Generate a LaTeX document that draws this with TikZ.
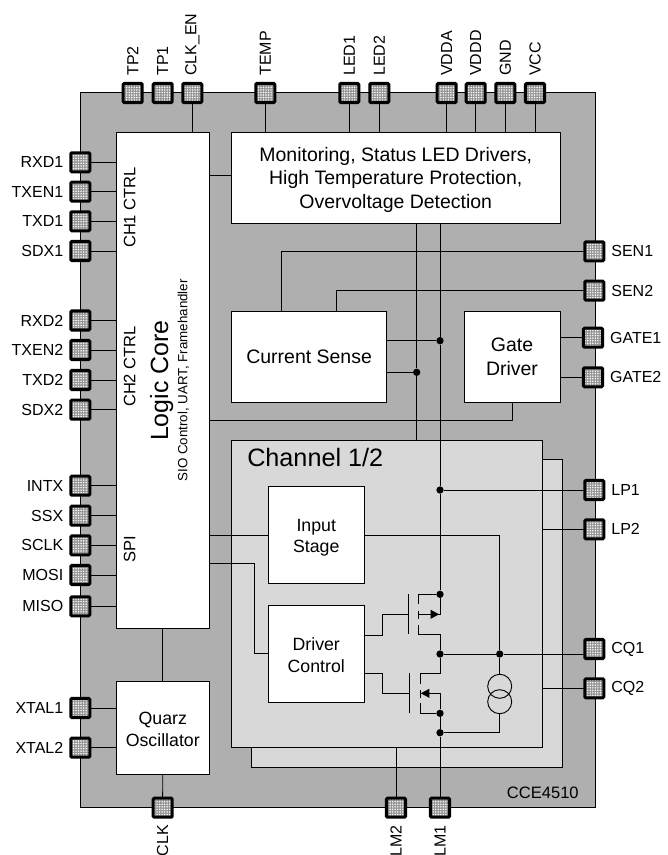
\documentclass[tikz,border=0pt]{standalone}
\usepackage{fontspec}
\setmainfont{Liberation Sans}
\usetikzlibrary{patterns.meta}
\definecolor{chipgray}{HTML}{AFAFAF}
\definecolor{channelgray}{HTML}{D8D8D8}
\tikzset{
  sized/.style 2 args={minimum width=#1*0.75pt,minimum height=#2*0.75pt,inner sep=0pt},
  blockbox/.style={draw=black,fill=white,line width=0.7pt,align=center,font=\fontsize{14.6}{17.6}\selectfont},
  smallbox/.style={blockbox,font=\fontsize{13.3}{16}\selectfont},
  shell/.style={draw=black,line width=0.7pt},
  pad/.style={rounded corners=0.8pt,sized={19}{19},
    preaction={fill=black!42},pattern={Dots[distance=1.9pt,radius=0.62pt]},pattern color=white,
    postaction={draw=black,line width=2.3pt}},
  wire/.style={draw=black,line width=0.7pt},
  junction/.style={circle,fill=black,inner sep=0pt,minimum size=5.5pt},
  padlabel/.style={font=\fontsize{12}{14}\selectfont,inner sep=0pt},
}
\begin{document}
\begin{tikzpicture}[x=0.75pt,y=-0.75pt]
  \useasboundingbox (0,0) rectangle (667,855);
  % housing and channel sheets
  \node[shell,fill=chipgray,sized={514.5}{715}] (chip) at (337.75,450.2) {};
  \node[shell,fill=channelgray,sized={310.3}{308.2}] (backsheet) at (406.85,613.6) {};
  \node[shell,fill=channelgray,sized={310.5}{307.7}] (channel) at (386.75,593.85) {};
  \node[font=\fontsize{18.9}{22}\selectfont,anchor=base west,inner sep=0pt] (channeltitle) at (247,466) {Channel 1/2};
  \node[font=\fontsize{12.4}{15}\selectfont,anchor=base west,inner sep=0pt] (partno) at (506.7,798) {CCE4510};
  % blocks
  \node[blockbox,sized={92.5}{496.7}] (logic) at (162.75,380.35) {};
  \node[blockbox,sized={328.5}{91.5}] (monitor) at (395.75,177.75)
    {\rule{0pt}{13.5pt}Monitoring, Status LED Drivers,\\High Temperature Protection,\\Overvoltage Detection};
  \node[blockbox,sized={155.2}{91}] (sense) at (309.1,356.5) {Current Sense};
  \node[blockbox,sized={96}{91},font=\fontsize{14.6}{18}\selectfont] (gatedrv) at (512,356.5) {Gate\\Driver};
  \node[smallbox,sized={95.5}{97}] (input) at (316.25,535.2) {\rule{0pt}{12.6pt}Input\\Stage};
  \node[smallbox,sized={95.5}{97}] (control) at (316.25,653.8) {\rule{0pt}{11.5pt}Driver\\Control};
  \node[smallbox,sized={92.5}{93}] (quarz) at (162.75,727.8) {\rule{0pt}{11.5pt}Quarz\\Oscillator};
  % text inside logic core
  \node[rotate=90,anchor=base,inner sep=0pt,font=\fontsize{12.4}{15}\selectfont] (chonetxt) at (135.3,207.5) {CH1 CTRL};
  \node[rotate=90,anchor=base,inner sep=0pt,font=\fontsize{12.4}{15}\selectfont] (chtwotxt) at (135.3,366.5) {CH2 CTRL};
  \node[rotate=90,anchor=base,inner sep=0pt,font=\fontsize{12.4}{15}\selectfont] (spitxt) at (135.3,549) {SPI};
  \node[rotate=90,anchor=base,inner sep=0pt,font=\fontsize{18.7}{22}\selectfont] (logictxt) at (168,380.7) {Logic Core};
  \node[rotate=90,anchor=base,inner sep=0pt,font=\fontsize{10}{12}\selectfont] (siotxt) at (187.3,380.3) {SIO Control, UART, Framehandler};
  % pads
  \foreach \n/\x/\t in {tptwo/132.7/TP2, tpone/162.7/TP1, clken/192.3/CLK\_EN, temp/265.3/TEMP,
                        ledone/349.3/LED1, ledtwo/379.3/LED2, vdda/446.7/VDDA, vddd/475.7/VDDD,
                        gnd/505.3/GND, vcc/535/VCC} {
    \node[pad] (\n) at (\x,93) {};
    \node[padlabel,rotate=90,anchor=west] (\n txt) at (\x,76) {\t};
  }
  \foreach \n/\x/\t in {clk/162.7/CLK, lmtwo/396/LM2, lmone/440/LM1} {
    \node[pad] (\n) at (\x,807.7) {};
    \node[padlabel,rotate=90,anchor=east] (\n txt) at (\x,825) {\t};
  }
  \foreach \n/\y/\t in {rxdone/162.3/RXD1, txenone/191.7/TXEN1, txdone/221.3/TXD1, sdxone/251/SDX1,
                        rxdtwo/320.5/RXD2, txentwo/350/TXEN2, txdtwo/380/TXD2, sdxtwo/409.7/SDX2,
                        intx/485.7/INTX, ssx/515.7/SSX, sclk/545.3/SCLK, mosi/575/MOSI,
                        miso/606.3/MISO, xtalone/708/XTAL1, xtaltwo/747.7/XTAL2} {
    \node[pad] (\n) at (80.3,\y) {};
    \node[padlabel,anchor=east] (\n txt) at (63.5,\y) {\t};
  }
  \foreach \n/\x/\y/\t in {senone/594.3/251.3/SEN1, sentwo/594.3/290.7/SEN2, gateone/593/337.7/GATE1,
                           gatetwo/593/377.3/GATE2, lpone/594.3/490/LP1, lptwo/594.3/529.3/LP2,
                           cqone/594.3/649/CQ1, cqtwo/594.3/688.3/CQ2} {
    \node[pad] (\n) at (\x,\y) {};
    \node[padlabel,anchor=west] (\n txt) at (\x+16.8,\y) {\t};
  }
  % junctions
  \node[junction] (jsensea) at (416.7,372.3) {};
  \node[junction] (jsenseb) at (440,340.7) {};
  \node[junction] (jlp) at (440,490) {};
  \node[junction] (jhigh) at (440,594.3) {};
  \node[junction] (jmid) at (440,654) {};
  \node[junction] (jlow) at (440,713.3) {};
  \node[junction] (jret) at (440,732.7) {};
  \node[junction] (jout) at (499.7,654) {};
  % pad connections
  \draw[wire] (clken.south) -- (clken.south |- logic.north);
  \foreach \n in {temp,ledone,ledtwo,vdda,vddd,gnd,vcc} {
    \draw[wire] (\n.south) -- (\n.south |- monitor.north);
  }
  \foreach \n in {rxdone,txenone,txdone,sdxone,rxdtwo,txentwo,txdtwo,sdxtwo,intx,ssx,sclk,mosi,miso} {
    \draw[wire] (\n.east) -- (\n.east -| logic.west);
  }
  \foreach \n in {xtalone,xtaltwo} {
    \draw[wire] (\n.east) -- (\n.east -| quarz.west);
  }
  \draw[wire] (clk.north) -- (quarz.south);
  \draw[wire] (logic.south) -- (quarz.north);
  \draw[wire] (209,175.7) -- (231.5,175.7);
  \draw[wire] (senone.west) -| (281,311);
  \draw[wire] (sentwo.west) -| (336,311);
  \draw[wire] (gateone.west) -- (gateone.west -| gatedrv.east);
  \draw[wire] (gatetwo.west) -- (gatetwo.west -| gatedrv.east);
  \draw[wire] (gatedrv.south) |- (209,420);
  % supply rails
  \draw[wire] (monitor.south -| jsensea) -- (jsensea) -- (jsensea |- channel.north);
  \draw[wire] (monitor.south -| jsenseb) -- (jsenseb) -- (jlp) -- (jhigh);
  \draw[wire] (jlow) -- (jret) -- (lmone.north);
  \draw[wire] (jsensea -| sense.east) -- (jsensea);
  \draw[wire] (jsenseb -| sense.east) -- (jsenseb);
  \draw[wire] (jlp) -- (lpone.west |- jlp);
  \draw[wire] (jmid) -- (jout) -- (cqone.west |- jmid);
  \draw[wire] (channel.east |- lptwo.west) -- (lptwo.west);
  \draw[wire] (channel.east |- cqtwo.west) -- (cqtwo.west);
  \draw[wire] (lmtwo.north) -- (lmtwo.north |- channel.south);
  % logic to channel
  \draw[wire] (logic.east |- input.west) -- (input.west);
  \draw[wire] (209,563) -- (254,563) |- (control.west);
  \draw[wire] (input.east) -| (jout);
  % transistors
  \coordinate (qhighgate) at (408,614.3);
  \coordinate (qlowgate) at (409.3,693.3);
  \draw[wire] (364,635) -- (382.7,635) |- (qhighgate);
  \draw[wire] (364,673) -- (382.7,673) |- (qlowgate);
  \draw[wire] (408,594.3) -- (408,634);
  \draw[wire] (jhigh) -- (418.7,594.3) -- (418.7,603.5);
  \draw[wire] (418.7,610.7) -- (418.7,618.7);
  \draw[wire] (418.7,625) -- (418.7,634) -- (440,634) -- (jmid);
  \draw[wire] (418.7,614.3) -- (440,614.3) -- (jhigh);
  \fill (439,614.3) -- (430.7,609.8) -- (430.7,618.8) -- cycle;
  \draw[wire] (409.3,673.3) -- (409.3,713.3);
  \draw[wire] (jmid) -- (440,673.3) -- (420,673.3) -- (420,683.7);
  \draw[wire] (420,690) -- (420,697.7);
  \draw[wire] (420,703.3) -- (420,713.3) -- (jlow);
  \draw[wire] (425,693.3) -- (440,693.3) -- (jlow);
  \fill (420.7,693.3) -- (429.3,688.8) -- (429.3,697.8) -- cycle;
  % current source
  \draw[wire] (499.7,686.3) circle (12);
  \draw[wire] (499.7,701.7) circle (12);
  \draw[wire] (jout) -- (499.7,674.3);
  \draw[wire] (499.7,713.7) |- (jret);
\end{tikzpicture}
\end{document}
